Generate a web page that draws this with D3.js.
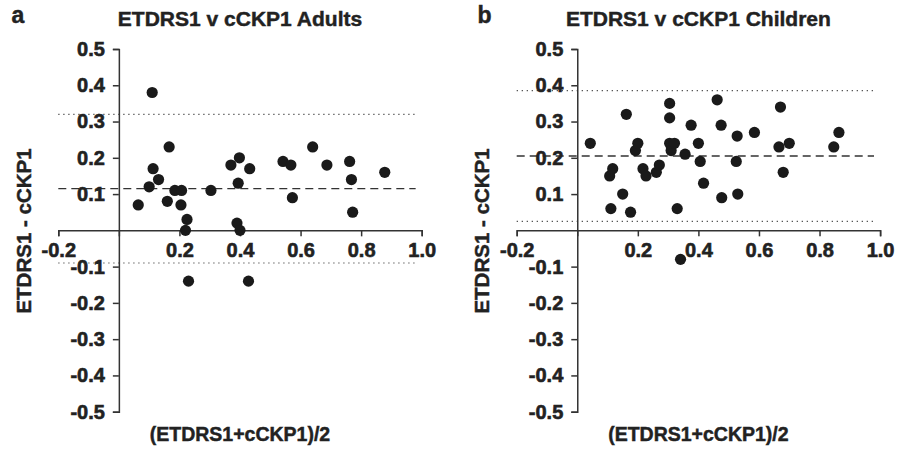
<!DOCTYPE html>
<html>
<head>
<meta charset="utf-8">
<script src="https://cdn.jsdelivr.net/npm/d3@7"></script>
<style>
  body { margin: 0; background: #fff; }
  text { font-family: "Liberation Sans", Arial, sans-serif; font-weight: bold; fill: #222; stroke: #222; stroke-width: 0.45px; }
</style>
</head>
<body>
<svg></svg>
<script>
// Bland-Altman plots, ETDRS1 vs cCKP1
var xTicks = [-0.2, 0, 0.2, 0.4, 0.6, 0.8, 1.0];
var yTicks = [-0.5, -0.4, -0.3, -0.2, -0.1, 0.1, 0.2, 0.3, 0.4, 0.5];

// adults: mean of the two tests, difference
var adultsMean = [0.11, 0.064, 0.10, 0.113, 0.131, 0.166, 0.16, 0.185, 0.207, 0.205, 0.225, 0.22,
  0.23, 0.304, 0.37, 0.398, 0.394, 0.432, 0.39, 0.40, 0.428, 0.542, 0.568, 0.573, 0.64, 0.687,
  0.762, 0.768, 0.772, 0.878];
var adultsDiff = [0.38, 0.07, 0.12, 0.17, 0.14, 0.23, 0.08, 0.11, 0.11, 0.07, 0.03, 0.0,
  -0.14, 0.11, 0.18, 0.20, 0.13, 0.17, 0.02, 0.0, -0.14, 0.19, 0.18, 0.09, 0.23, 0.18,
  0.19, 0.14, 0.05, 0.16];
var adultsBias = 0.115, adultsLimits = [-0.09, 0.32];

// children
var childMean = [0.043, 0.107, 0.117, 0.111, 0.15, 0.176, 0.162, 0.192, 0.20, 0.217, 0.227, 0.261,
  0.271, 0.305, 0.31, 0.321, 0.305, 0.305, 0.33, 0.356, 0.376, 0.40, 0.406, 0.417, 0.341, 0.462,
  0.475, 0.477, 0.528, 0.525, 0.53, 0.585, 0.666, 0.671, 0.68, 0.70, 0.847, 0.864];
var childDiff = [0.24, 0.15, 0.17, 0.06, 0.10, 0.05, 0.32, 0.22, 0.24, 0.17, 0.15, 0.16,
  0.18, 0.24, 0.22, 0.24, 0.31, 0.35, 0.06, 0.21, 0.29, 0.24, 0.19, 0.13, -0.08, 0.36,
  0.29, 0.09, 0.26, 0.19, 0.10, 0.27, 0.23, 0.34, 0.16, 0.24, 0.23, 0.27];
var childBias = 0.205, childLimits = [0.025, 0.385];

var svgWidth = 898, svgHeight = 456;

var svg = d3.select("svg")
    .attr("width", svgWidth)
    .attr("height", svgHeight);

function drawPanel(letter, letterX, title, xs, ys, bias, limits, left) {
    var g = svg.append("g");

    var xScale = d3.scaleLinear()
        .domain([-0.2, 1.0])
        .range([left, left + 363.4]);

    var yScale = d3.scaleLinear()
        .domain([-0.5, 0.5])
        .range([411.7, 49]);

    // limits of agreement (dotted)
    g.selectAll(".limit")
        .data(limits)
        .enter().append("line")
        .attr("x1", xScale(-0.2))
        .attr("x2", xScale(0.98))
        .attr("y1", d => yScale(d))
        .attr("y2", d => yScale(d))
        .style("stroke", "#444")
        .style("stroke-width", 1.2)
        .style("stroke-dasharray", "1.2,3.8");

    // mean difference (dashed)
    g.append("line")
        .attr("x1", xScale(-0.2))
        .attr("x2", xScale(0.98))
        .attr("y1", yScale(bias))
        .attr("y2", yScale(bias))
        .style("stroke", "#333")
        .style("stroke-width", 1.3)
        .style("stroke-dasharray", "8,5");

    var fmt = d => d.toFixed(1);

    var xAxis = g.append("g")
        .attr("transform", "translate(0," + yScale(0) + ")")
        .call(d3.axisBottom(xScale).tickValues(xTicks).tickFormat(d => d === 0 ? "" : fmt(d))
            .tickSize(6).tickPadding(6));

    var yAxis = g.append("g")
        .attr("transform", "translate(" + xScale(0) + ",0)")
        .call(d3.axisLeft(yScale).tickValues(yTicks).tickFormat(fmt)
            .tickSize(6).tickPadding(8));

    [xAxis, yAxis].forEach(function(ax) {
        ax.select(".domain").style("stroke", "#333").style("stroke-width", 1.5);
        ax.selectAll(".tick line").style("stroke", "#333").style("stroke-width", 1.5);
        ax.selectAll(".tick text")
            .style("font-family", '"Liberation Sans", Arial, sans-serif')
            .style("font-weight", "bold")
            .style("font-size", "20px")
            .style("fill", "#222")
            .style("stroke", "#222")
            .style("stroke-width", "0.6px");
    });

    // points
    g.selectAll(".dot")
        .data(xs)
        .enter().append("circle")
        .attr("cx", d => xScale(d))
        .attr("cy", (d, i) => yScale(ys[i]))
        .attr("r", 5.6)
        .style("fill", "#1a1a1a");

    var cx = (xScale(-0.2) + xScale(1.0)) / 2;

    g.append("text")
        .attr("x", cx)
        .attr("y", 26)
        .attr("text-anchor", "middle")
        .style("font-size", "21px")
        .text(title);

    g.append("text")
        .attr("x", letterX)
        .attr("y", 23)
        .style("font-size", "23px")
        .text(letter);

    g.append("text")
        .attr("x", cx)
        .attr("y", 441)
        .attr("text-anchor", "middle")
        .style("font-size", "19.5px")
        .text("(ETDRS1+cCKP1)/2");

    g.append("text")
        .attr("transform", "translate(" + (left - 27.5) + ",231) rotate(-90)")
        .attr("text-anchor", "middle")
        .style("font-size", "20.5px")
        .text("ETDRS1 - cCKP1");
}

drawPanel("a", 11.5, "ETDRS1 v cCKP1 Adults", adultsMean, adultsDiff, adultsBias, adultsLimits, 58.3);
drawPanel("b", 477.5, "ETDRS1 v cCKP1 Children", childMean, childDiff, childBias, childLimits, 516.7);
</script>
</body>
</html>
